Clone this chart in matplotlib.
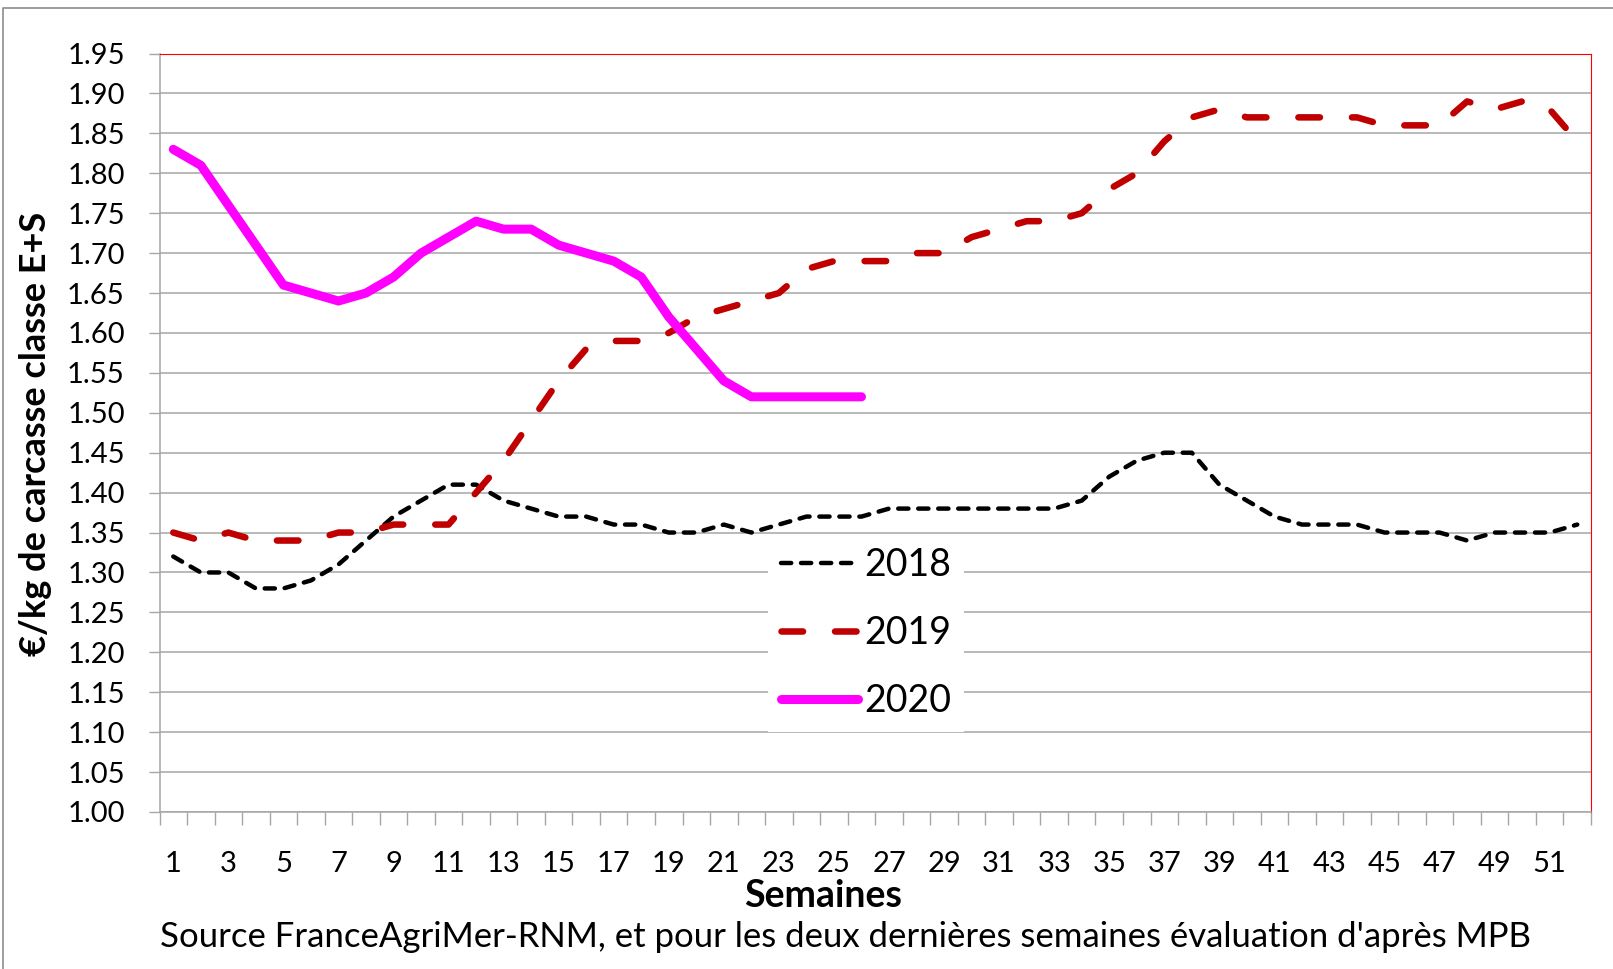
import matplotlib

matplotlib.use("Agg")
import matplotlib.pyplot as plt
from matplotlib.lines import Line2D

# weekly carcass prices, €/kg classe E+S
weeks = list(range(1, 53))
prix_2018 = [1.32, 1.30, 1.30, 1.28, 1.28, 1.29, 1.31, 1.34, 1.37, 1.39, 1.41, 1.41, 1.39,
             1.38, 1.37, 1.37, 1.36, 1.36, 1.35, 1.35, 1.36, 1.35, 1.36, 1.37, 1.37, 1.37,
             1.38, 1.38, 1.38, 1.38, 1.38, 1.38, 1.38, 1.39, 1.42, 1.44, 1.45, 1.45, 1.41,
             1.39, 1.37, 1.36, 1.36, 1.36, 1.35, 1.35, 1.35, 1.34, 1.35, 1.35, 1.35, 1.36]
prix_2019 = [1.35, 1.34, 1.35, 1.34, 1.34, 1.34, 1.35, 1.35, 1.36, 1.36, 1.36, 1.40, 1.44,
             1.49, 1.54, 1.58, 1.59, 1.59, 1.60, 1.62, 1.63, 1.64, 1.65, 1.68, 1.69, 1.69,
             1.69, 1.70, 1.70, 1.72, 1.73, 1.74, 1.74, 1.75, 1.78, 1.80, 1.84, 1.87, 1.88,
             1.87, 1.87, 1.87, 1.87, 1.87, 1.86, 1.86, 1.86, 1.89, 1.88, 1.89, 1.88, 1.84]
prix_2020 = [1.83, 1.81, 1.76, 1.71, 1.66, 1.65, 1.64, 1.65, 1.67, 1.70, 1.72, 1.74, 1.73,
             1.73, 1.71, 1.70, 1.69, 1.67, 1.62, 1.58, 1.54, 1.52, 1.52, 1.52, 1.52, 1.52]
y_ticks = [1.00 + 0.05 * i for i in range(20)]
x_labels = list(range(1, 53, 2))

plt.rcParams["font.family"] = ["Lato", "DejaVu Sans"]
GRID = "#A6A6A6"
W, H = 1613, 969

fig = plt.figure(figsize=(W / 100, H / 100), dpi=100)
ax = fig.add_axes([159.5 / W, 1 - 812 / H, (1591 - 159.5) / W, (812 - 53.5) / H])

ax.plot(weeks, prix_2018, color="black", lw=3.2, dashes=(2.3, 2.2),
        dash_capstyle="round", solid_joinstyle="round", label="2018")
ax.plot(weeks, prix_2019, color="#C00000", lw=4.7, dashes=(3.3, 4.9),
        dash_capstyle="round", solid_joinstyle="round", label="2019")
ax.plot(weeks[:len(prix_2020)], prix_2020, color="#FF00FF", lw=6.5,
        solid_capstyle="round", solid_joinstyle="round", label="2020")

ax.set_xlim(0.5, 52.5)
ax.set_ylim(1.00, 1.95)
ax.set_yticks(y_ticks)
ax.set_yticklabels([f"{v:.2f}" for v in y_ticks])
ax.yaxis.grid(True, color=GRID, lw=1.1)
ax.set_axisbelow(True)
ax.tick_params(axis="y", direction="out", length=8, width=1, color=GRID,
               labelsize=21, pad=17)

ax.set_xticks(x_labels)
ax.set_xticks([w + 0.5 for w in range(0, 53)], minor=True)
ax.tick_params(axis="x", which="major", length=0, labelsize=21, pad=28)
ax.tick_params(axis="x", which="minor", direction="out", length=9, width=1, color=GRID)

for side in ("top", "right"):
    ax.spines[side].set_color("#FF0000")
    ax.spines[side].set_linewidth(0.8)
for side in ("left", "bottom"):
    ax.spines[side].set_color(GRID)
    ax.spines[side].set_linewidth(1.1)

fig.text(36 / W, 1 - 434 / H, "€/kg de carcasse classe E+S", rotation=90,
         ha="center", va="center", fontsize=26, fontweight="bold")
fig.text(823 / W, 1 - 896 / H, "Semaines", ha="center", va="center",
         fontsize=27, fontweight="bold")
fig.text(845 / W, 1 - 937 / H,
         "Source FranceAgriMer-RNM, et pour les deux dernières semaines évaluation d'après MPB",
         ha="center", va="center", fontsize=25)

leg = ax.legend(loc="center", bbox_to_anchor=(866 / W, 1 - 633 / H),
                bbox_transform=fig.transFigure, fontsize=27, frameon=True,
                handlelength=2.05, handletextpad=0.15, labelspacing=0.85,
                borderpad=0.35, fancybox=False)
leg.get_frame().set_edgecolor("none")
leg.get_frame().set_facecolor("white")
leg.get_frame().set_alpha(1)
leg.set_zorder(10)

# outer chart border (top and left visible)
fig.add_artist(Line2D([3 / W, 3 / W, 1], [0, 1 - 8 / H, 1 - 8 / H],
                      transform=fig.transFigure, color="#8C8C8C", lw=1.2))

fig.savefig("out.png", dpi=100)
